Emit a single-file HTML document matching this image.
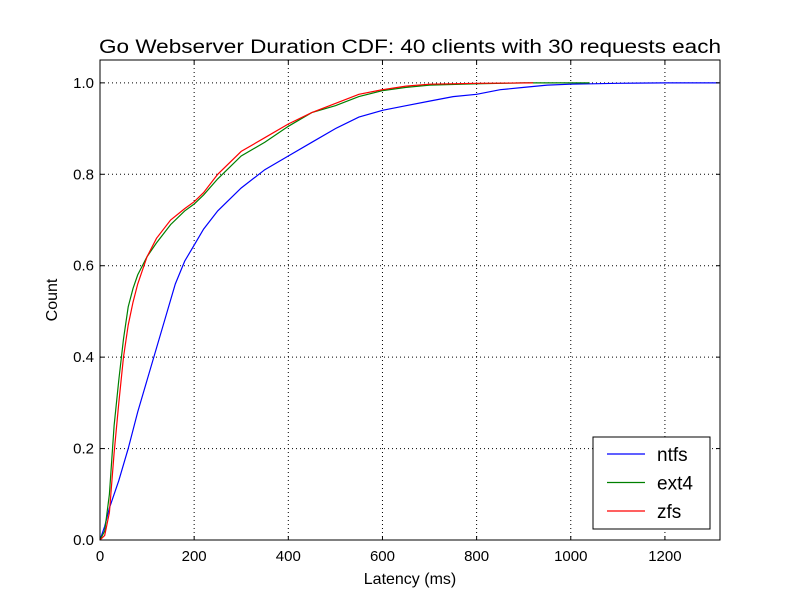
<!DOCTYPE html>
<html><head><meta charset="utf-8"><style>
body{margin:0;background:#fff}
text{font-family:"Liberation Sans","DejaVu Sans",sans-serif;fill:#000}
</style></head><body>
<svg id="chart" width="800" height="600" viewBox="0 0 800 600" xmlns="http://www.w3.org/2000/svg">
<rect width="800" height="600" fill="#fff"/>
<g id="grid"></g><g id="series"></g><g id="axes"></g>
</svg>
<script>
const xTicks=[0,200,400,600,800,1000,1200];
const yTicks=[0.0,0.2,0.4,0.6,0.8,1.0];
const seriesNames=["ntfs","ext4","zfs"];
const seriesColors=["#0000ff","#008000","#ff0000"];
const ntfsX=[0,10,20,40,60,80,100,120,140,160,180,200,220,250,300,350,400,450,500,550,600,650,700,750,800,850,900,950,1000,1100,1200,1315];
const ntfsY=[0,0.03,0.07,0.13,0.2,0.28,0.35,0.42,0.49,0.56,0.61,0.645,0.68,0.72,0.77,0.81,0.84,0.87,0.9,0.925,0.94,0.95,0.96,0.97,0.975,0.985,0.99,0.995,0.997,0.999,1.0,1.0];
const ext4X=[0,10,20,30,40,50,60,70,80,100,120,150,180,200,220,250,300,350,400,450,500,550,600,650,700,800,900,1040];
const ext4Y=[0,0.02,0.1,0.25,0.35,0.44,0.51,0.55,0.58,0.62,0.65,0.69,0.72,0.735,0.755,0.79,0.84,0.87,0.905,0.935,0.95,0.97,0.983,0.99,0.995,0.998,1.0,1.0];
const zfsX=[0,10,20,30,40,50,60,70,80,100,120,150,180,200,220,250,300,350,400,450,500,550,600,650,700,800,920];
const zfsY=[0,0.01,0.06,0.19,0.3,0.4,0.47,0.52,0.56,0.62,0.66,0.7,0.725,0.74,0.76,0.8,0.85,0.88,0.91,0.935,0.955,0.975,0.985,0.993,0.997,0.999,1.0];
const L=100,R=720,T=60,B=540,xMax=1317,yMax=1.05;
const sx=v=>L+(R-L)*v/xMax, sy=v=>B-(B-T)*v/yMax;
const NS="http://www.w3.org/2000/svg";
function mk(tag,attrs,parent,txt){const e=document.createElementNS(NS,tag);for(const k in attrs)e.setAttribute(k,attrs[k]);if(txt!==undefined)e.textContent=txt;parent.appendChild(e);return e;}
const grid=document.getElementById('grid'),ser=document.getElementById('series'),ax=document.getElementById('axes');
xTicks.forEach(t=>{const x=sx(t);
 const g=mk('line',{x1:x,x2:x,y1:T,y2:B,stroke:'#000','stroke-dasharray':'1,3','stroke-width':1},grid);
 
 
 mk('line',{x1:x,x2:x,y1:B,y2:B-4,stroke:'#000'},ax);mk('line',{x1:x,x2:x,y1:T,y2:T+4,stroke:'#000'},ax);
 const l=mk('text',{x:x,y:B+21,'text-anchor':'middle','font-size':15},ax,String(t));
 
 });
yTicks.forEach(t=>{const y=sy(t);
 const g=mk('line',{x1:L,x2:R,y1:y,y2:y,stroke:'#000','stroke-dasharray':'1,3','stroke-width':1},grid);
 
 
 mk('line',{x1:L,x2:L+4,y1:y,y2:y,stroke:'#000'},ax);mk('line',{x1:R,x2:R-4,y1:y,y2:y,stroke:'#000'},ax);
 const l=mk('text',{x:L-6,y:y+5,'text-anchor':'end','font-size':15},ax,t.toFixed(1));
 
 });
[[ntfsX,ntfsY],[ext4X,ext4Y],[zfsX,zfsY]].forEach((d,i)=>{
 const p=d[0].map((x,j)=>sx(x).toFixed(1)+','+sy(d[1][j]).toFixed(1)).join(' ');
 const pl=mk('polyline',{points:p,fill:'none',stroke:seriesColors[i],'stroke-width':1.2},ser);
 
 });
const fr=mk('rect',{x:L,y:T,width:R-L,height:B-T,fill:'none',stroke:'#000','stroke-width':1},ax);


const title=mk('text',{x:410,y:53,'text-anchor':'middle','font-size':19,textLength:622,lengthAdjust:'spacingAndGlyphs'},ax,'Go Webserver Duration CDF: 40 clients with 30 requests each');


const xt=mk('text',{x:410,y:584,'text-anchor':'middle','font-size':16},ax,'Latency (ms)');


const yt=mk('text',{x:57,y:300,'text-anchor':'middle','font-size':16,transform:'rotate(-90 57 300)'},ax,'Count');


const lg=mk('g',{},ax);


mk('rect',{x:593,y:437,width:117,height:92,fill:'#fff',stroke:'#000'},lg);
seriesNames.forEach((n,i)=>{const y=454+i*28.5;
 const e=mk('g',{},lg);
 
 
 mk('line',{x1:607,x2:645,y1:y,y2:y,stroke:seriesColors[i],'stroke-width':1.2},e);
 mk('text',{x:657,y:y+7,'font-size':19},e,n);});
</script>
</body></html>
